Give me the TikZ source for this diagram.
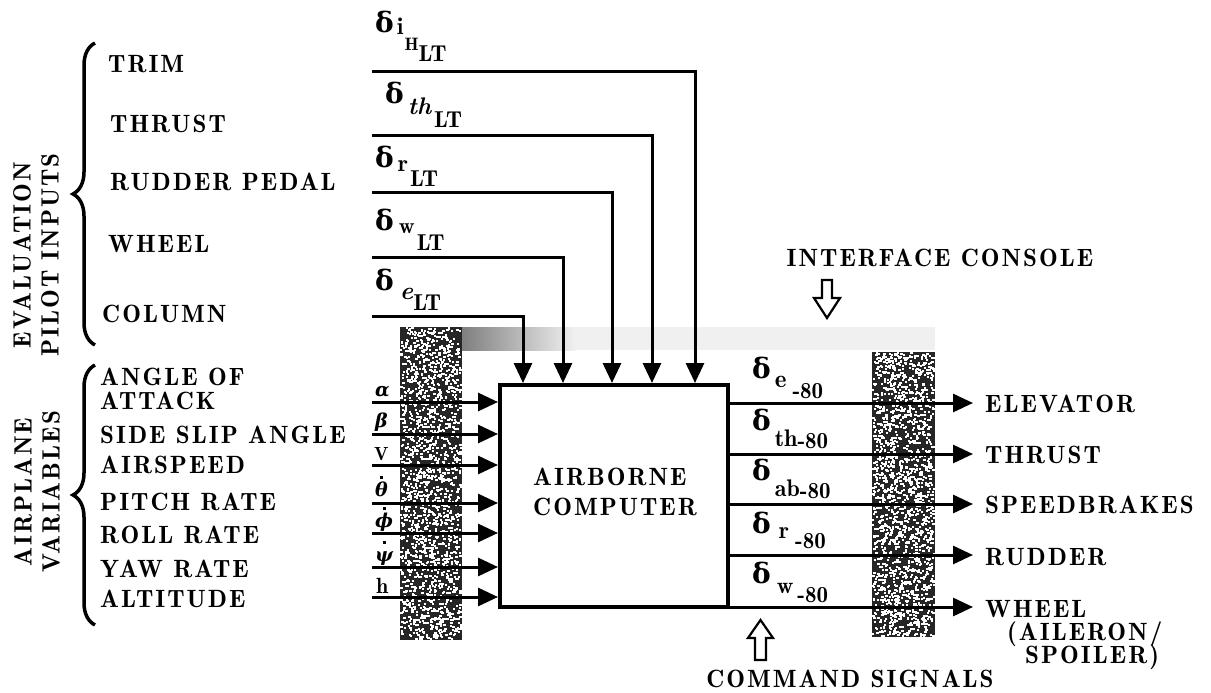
\documentclass[tikz,border=0pt]{standalone}
\usepackage{fontspec}
\usepackage{amsmath}
\usetikzlibrary{arrows.meta,decorations.pathreplacing,calc}
\setmainfont{lmroman10-regular}[Extension=.otf, ItalicFont=lmroman10-italic, BoldFont=lmroman10-bold, BoldItalicFont=lmroman10-bolditalic]
\newfontfamily\lsp{lmromandemi10-regular}[Extension=.otf, LetterSpace=8]
\newfontfamily\sbf{lmromandemi10-regular}[Extension=.otf, ItalicFont=lmroman10-bolditalic]
\newfontfamily\grk{DejaVu Serif}
\newcommand\lbl{\lsp\fontsize{25}{28}\selectfont}
\newcommand\dd{{\grk\bfseries\fontsize{28}{28}\selectfont δ}}
\newcommand\sbx[3]{\raisebox{-#1pt}{\sbf\fontsize{#2}{#2}\selectfont #3}}
\newcommand\gv[1]{{\grk\bfseries\itshape\fontsize{19}{19}\selectfont #1}}
\newcommand\gdot[1]{\ooalign{\gv{#1}\cr\hidewidth\raisebox{17pt}{\rule{3.2pt}{3.2pt}}\hidewidth\cr}}
\begin{document}
\begin{tikzpicture}[x=1pt,y=-1pt,
  txt/.style={font=\lbl, inner sep=0pt, anchor=base west},
  dl/.style={inner sep=0pt, anchor=base west},
  arr/.style={line width=3pt, -{Triangle[length=20pt,width=18pt]}},
  band/.style={fill=black!85},
  brc/.style={line width=3.5pt, decorate, decoration={brace, amplitude=22pt}},
  openarr/.style={line width=2.2pt, fill=white, line join=miter}]
\useasboundingbox (0,0) rectangle (1211,693);

% stippled console bands
\fill[band] (400,327) rectangle (462,640);
\shade[left color=black!50, right color=black!6] (462,327) rectangle (575,350);
\fill[black!6] (575,327) rectangle (935,350);
\fill[band] (872,352) rectangle (935,637);
\pgfmathsetseed{7}
\foreach \i in {1,...,1800}{
  \pgfmathsetmacro\rx{400+60*rnd}\pgfmathsetmacro\ry{327+311*rnd}
  \fill[white] (\rx,\ry) rectangle ++(2.3,2.0);
  \pgfmathsetmacro\tx{872+61*rnd}\pgfmathsetmacro\ty{352+283*rnd}
  \fill[white] (\tx,\ty) rectangle ++(2.3,2.0);
}

% computer box
\node[draw, line width=4pt, minimum width=228pt, minimum height=222pt, inner sep=0pt] (comp) at (614,496) {};
\node[align=left, anchor=center, inner sep=0pt, font=\lsp\fontsize{25}{30}\selectfont] (comptxt) at (615,492) {AIRBORNE\\COMPUTER};

% pilot inputs
\node[rotate=90, align=center, font=\lbl] (evl) at (36,255) {EVALUATION\\PILOT INPUTS};
\draw[brc] (95,345) -- (95,43);
\node[txt] (trim) at (108,73) {TRIM};
\node[txt] (thr) at (110,132) {THRUST};
\node[txt] (rud) at (110,190) {RUDDER PEDAL};
\node[txt] (whl) at (108,252) {WHEEL};
\node[txt] (col) at (102,322) {COLUMN};

\coordinate (s1) at (372,72);
\coordinate (s2) at (372,135);
\coordinate (s3) at (372,192);
\coordinate (s4) at (372,257);
\coordinate (s5) at (372,316);
\coordinate (x1) at (695,0);
\coordinate (x2) at (652,0);
\coordinate (x3) at (612,0);
\coordinate (x4) at (563,0);
\coordinate (x5) at (523,0);
\draw[arr] (s1) -| (x1 |- comp.north);
\draw[arr] (s2) -| (x2 |- comp.north);
\draw[arr] (s3) -| (x3 |- comp.north);
\draw[arr] (s4) -| (x4 |- comp.north);
\draw[arr] (s5) -| (x5 |- comp.north);

\node[dl] (l1) at (375,33) {\dd\kern3pt\sbx{2}{24}{i}\kern1pt\sbx{18}{18}{H}\sbx{29}{23}{LT}};
\node[dl] (l2) at (385,103) {\dd\kern4pt\sbx{11}{24}{\textit{th}}\kern2pt\sbx{24}{23}{LT}};
\node[dl] (l3) at (375,167) {\dd\kern4pt\sbx{5}{24}{r}\kern2pt\sbx{19}{23}{LT}};
\node[dl] (l4) at (375,230) {\dd\kern5pt\sbx{3}{22}{w}\kern2pt\sbx{20}{23}{LT}};
\node[dl] (l5) at (375,290) {\dd\kern6pt\sbx{9}{25}{\textit{e}}\sbx{20}{23}{LT}};

% airplane variables
\node[rotate=90, align=center, font=\lbl] (apv) at (37,492) {AIRPLANE\\VARIABLES};
\draw[brc] (95,625) -- (95,365);
\node[txt] (aoa) at (100,385) {ANGLE OF};
\node[txt] (aoa2) at (100,409) {ATTACK};
\node[txt] (ssa) at (100,443) {SIDE SLIP ANGLE};
\node[txt] (asp) at (100,473) {AIRSPEED};
\node[txt] (ptr) at (100,510) {PITCH RATE};
\node[txt] (rlr) at (100,543) {ROLL RATE};
\node[txt] (ywr) at (100,577) {YAW RATE};
\node[txt] (alt) at (100,607) {ALTITUDE};

\coordinate (va) at (372,402);
\coordinate (vb) at (372,434);
\coordinate (vv) at (372,465);
\coordinate (vq) at (372,503);
\coordinate (vp) at (372,533);
\coordinate (vr) at (372,567);
\coordinate (vh) at (372,597);
\foreach \c in {va,vb,vv,vq,vp,vr,vh} \draw[arr] (\c) -- (\c -| comp.west);

\node[dl] (ga) at (375,396) {\gv{α}};
\node[dl] (gb) at (375,427) {\gv{β}};
\node[dl] (gv) at (374,460) {\sbf\fontsize{19}{19}\selectfont V};
\node[dl] (gq) at (375,496) {\gdot{θ}};
\node[dl] (gp) at (375,527) {\gdot{ϕ}};
\node[dl] (gr) at (375,561) {\gdot{ψ}};
\node[dl] (gh) at (376,593) {\sbf\fontsize{22}{22}\selectfont h};

% outputs
\coordinate (o1) at (973,403);
\coordinate (o2) at (973,454);
\coordinate (o3) at (973,504);
\coordinate (o4) at (973,555);
\coordinate (o5) at (973,607);
\foreach \c in {o1,o2,o3,o4,o5} \draw[arr] (\c -| comp.east) -- (\c);

\node[dl] (d1) at (752,378) {\dd\kern4pt\sbx{9}{25}{e}\kern6pt\sbx{20}{23}{-80}};
\node[dl] (d2) at (752,430) {\dd\kern4pt\sbx{16}{24}{th}\sbx{18}{23}{-80}};
\node[dl] (d3) at (752,480) {\dd\kern4pt\sbx{16}{24}{ab}\sbx{18}{23}{-80}};
\node[dl] (d4) at (752,533) {\dd\kern8pt\sbx{5}{24}{r}\kern6pt\sbx{15}{23}{-80}};
\node[dl] (d5) at (752,583) {\dd\kern6pt\sbx{10}{23}{w}\kern4pt\sbx{19}{23}{-80}};

\node[txt] (elv) at (985,412) {ELEVATOR};
\node[txt] (othr) at (985,463) {THRUST};
\node[txt] (spd) at (985,513) {SPEEDBRAKES};
\node[txt] (orud) at (985,565) {RUDDER};
\node[txt] (owhl) at (985,617) {WHEEL};
\node[txt] (owhl2) at (1007,640) {(AILERON/};
\node[txt] (owhl3) at (1025,663) {SPOILER)};

% console and command labels
\node[txt, anchor=base] (ic) at (940,266) {INTERFACE CONSOLE};
\draw[openarr] (822,280) -- (832,280) -- (832,298) -- (840,298) -- (827,318) -- (814,298) -- (822,298) -- cycle;
\node[txt, anchor=base] (cs) at (850,687) {COMMAND SIGNALS};
\draw[openarr] (755,660) -- (766,660) -- (766,638) -- (773,638) -- (760.5,620) -- (748,638) -- (755,638) -- cycle;
\end{tikzpicture}
\end{document}
